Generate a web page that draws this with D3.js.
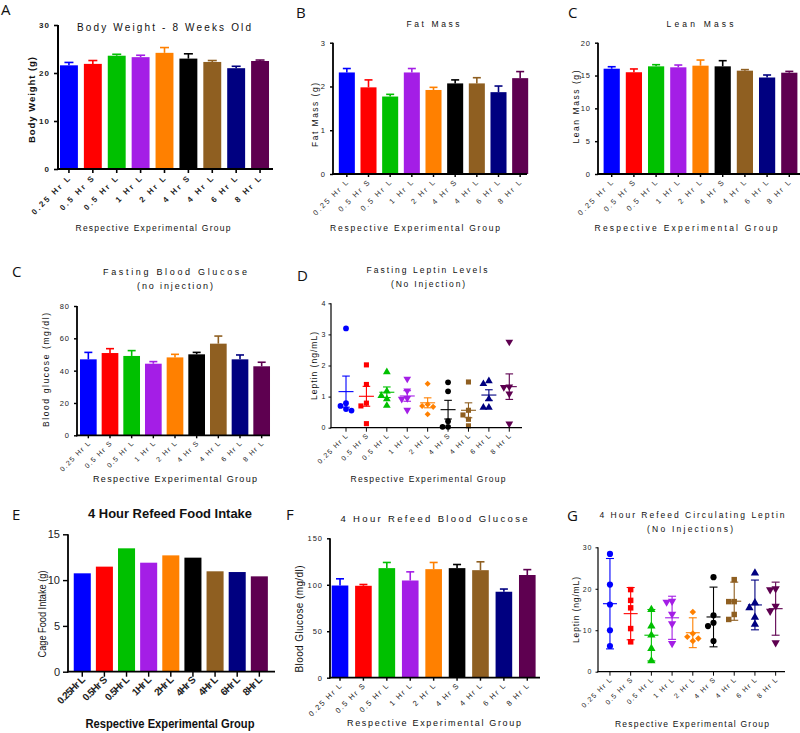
<!DOCTYPE html>
<html><head><meta charset="utf-8">
<script src="https://cdn.jsdelivr.net/npm/d3@7"></script>
<style>
body{margin:0;background:#fff}
svg{display:block}
text{font-family:"Liberation Sans",Arial,sans-serif;fill:#111}
</style>
</head><body>
<svg id="c" width="800" height="733"></svg>
<script>
// ---------------- DATA ----------------
const groups = ["0.25 Hr L","0.5 Hr S","0.5 Hr L","1 Hr L","2 Hr L","4 Hr S","4 Hr L","6 Hr L","8 Hr L"];
const groupsE = ["0.25Hr L","0.5Hr S","0.5Hr L","1Hr L","2Hr L","4Hr S","4Hr L","6Hr L","8Hr L"];
const colors = ["#0000ff","#ff0000","#00c000","#a41ee6","#ff8000","#000000","#8f5f21","#000080","#5e0050"];
const symbols = ["circle","square","triangle","down","diamond","circle","square","triangle","down"];

const bodyWeight    = [21.6, 21.9, 23.6, 23.3, 24.2, 23.0, 22.3, 21.0, 22.5];
const bodyWeightErr = [0.6, 0.7, 0.3, 0.4, 1.1, 1.0, 0.3, 0.4, 0.2];
const bodyWeightTicks = [0, 10, 20, 30];

const fatMass    = [2.32, 1.98, 1.77, 2.32, 1.92, 2.07, 2.07, 1.87, 2.19];
const fatMassErr = [0.09, 0.17, 0.05, 0.09, 0.06, 0.08, 0.13, 0.14, 0.15];
const fatMassTicks = [0, 1, 2, 3];

const leanMass    = [16.04, 15.5, 16.4, 16.25, 16.5, 16.4, 15.74, 14.7, 15.43];
const leanMassErr = [0.3, 0.5, 0.25, 0.35, 0.86, 0.86, 0.16, 0.38, 0.2];
const leanMassTicks = [0, 5, 10, 15, 20];

const fastingGlucose    = [47.0, 50.9, 49.1, 44.3, 48.2, 50.1, 56.7, 47.0, 42.7];
const fastingGlucoseErr = [4.3, 2.7, 3.3, 1.3, 1.9, 1.2, 4.7, 2.7, 2.5];
const fastingGlucoseTicks = [0, 20, 40, 60, 80];

const fastingLeptin = [
  [3.19, 0.79, 0.70, 0.60, 0.55],
  [2.02, 1.39, 0.79, 0.70, 0.13],
  [1.79, 1.17, 1.03, 0.92, 0.71],
  [1.57, 1.19, 0.95, 0.92, 0.57],
  [1.41, 0.75, 0.70, 0.67, 0.43],
  [1.46, 1.17, 0.21, 0.03, 0.03],
  [1.47, 0.56, 0.41, 0.27, 0.06],
  [1.50, 1.41, 0.92, 0.65, 0.65],
  [2.76, 1.32, 1.30, 1.09, 0.13]
];
const fastingLeptinMean = [1.16, 1.01, 1.14, 1.02, 0.80, 0.58, 0.56, 1.05, 1.32];
const fastingLeptinErr  = [0.50, 0.32, 0.17, 0.17, 0.16, 0.30, 0.24, 0.17, 0.41];
const fastingLeptinTicks = [0, 1, 2, 3, 4];

const foodIntake = [10.74, 11.47, 13.47, 11.9, 12.7, 12.45, 10.96, 10.88, 10.41];
const foodIntakeTicks = [0, 5, 10, 15];

const refeedGlucose    = [99.2, 98.9, 117.9, 104.6, 116.8, 117.9, 115.7, 92.5, 110.5];
const refeedGlucoseErr = [7.2, 1.4, 6.1, 9.3, 7.2, 3.9, 9.0, 2.9, 5.8];
const refeedGlucoseTicks = [0, 50, 100, 150];

const refeedLeptin = [
  [28.4, 21.0, 16.2, 10.0, 6.2],
  [19.8, 17.2, 15.4, 10.4, 7.2],
  [15.0, 11.0, 8.8, 5.6, 2.6],
  [17.0, 16.8, 13.9, 11.6, 6.8],
  [14.4, 9.2, 8.4, 8.0, 7.4],
  [22.8, 13.6, 11.8, 11.0, 7.4],
  [22.2, 16.9, 16.9, 13.8, 12.6],
  [23.8, 16.6, 15.4, 13.1, 11.4],
  [20.0, 19.8, 15.8, 14.6, 7.0]
];
const refeedLeptinMean = [16.4, 14.0, 8.8, 13.0, 9.4, 13.2, 17.0, 16.1, 15.2];
const refeedLeptinErr  = [10.9, 6.3, 6.2, 5.2, 3.6, 7.2, 4.6, 6.0, 6.4];
const refeedLeptinTicks = [0, 10, 20, 30];

// ---------------- DRAWING ----------------
const svg = d3.select("#c");

function txt(g, s, x, y, o) {
  o = o || {};
  const t = g.append("text").text(s)
    .attr("x", x).attr("y", y)
    .attr("text-anchor", o.anchor || "middle")
    .style("font-size", (o.size || 9) + "px")
    .style("font-weight", o.bold ? "bold" : "normal");
  if (o.ls != null) t.style("letter-spacing", o.ls + "px");
  if (o.len) t.attr("textLength", o.len).attr("lengthAdjust", o.adj || "spacing");
  if (o.rot) t.attr("x", 0).attr("y", 0).attr("transform", `translate(${x},${y}) rotate(${o.rot})`);
  if (o.fill) t.style("fill", o.fill);
  if (o.family) t.style("font-family", o.family);
  return t;
}

function symbolPath(name, size) {
  if (name === "circle") return d3.symbol(d3.symbolCircle, size)();
  if (name === "square") return d3.symbol(d3.symbolSquare, size)();
  if (name === "diamond") return d3.symbol(d3.symbolSquare, size * 0.7)();
  return d3.symbol(d3.symbolTriangle, size)();
}
function symbolRot(name) {
  if (name === "down") return 180;
  if (name === "diamond") return 45;
  return 0;
}

function swarm(vals, y, minDist, dx) {
  const placed = [];
  return vals.map(v => {
    const py = y(v);
    const cands = [0, -dx, dx, -2 * dx, 2 * dx, -3 * dx, 3 * dx];
    for (const c of cands) {
      if (placed.every(p => Math.hypot(p.x - c, p.y - py) >= minDist)) {
        placed.push({x: c, y: py});
        return {v, dx: c};
      }
    }
    return {v, dx: 0};
  });
}

function panel(cfg) {
  const g = svg.append("g");
  const x = d3.scaleBand().domain(cfg.cats).range(cfg.band)
    .paddingInner(cfg.pad).paddingOuter(cfg.pad / 2);
  const y = d3.scaleLinear().domain([0, cfg.max]).range([cfg.yBot, cfg.yTop]);
  const aw = cfg.axisW;

  // bars
  if (cfg.values) {
    g.selectAll("rect.bar").data(cfg.values).join("rect")
      .attr("x", (d, i) => x(cfg.cats[i]))
      .attr("width", x.bandwidth())
      .attr("y", d => y(d))
      .attr("height", d => y(0) - y(d))
      .attr("fill", (d, i) => colors[i]);
    if (cfg.errs) {
      const eg = g.append("g");
      cfg.values.forEach((v, i) => {
        const cx = x(cfg.cats[i]) + x.bandwidth() / 2;
        const top = y(v + cfg.errs[i]);
        eg.append("line").attr("x1", cx).attr("x2", cx).attr("y1", y(v)).attr("y2", top)
          .attr("stroke", colors[i]).attr("stroke-width", 1.6);
        eg.append("line").attr("x1", cx - cfg.cap).attr("x2", cx + cfg.cap).attr("y1", top).attr("y2", top)
          .attr("stroke", colors[i]).attr("stroke-width", 1.6);
      });
    }
  }

  // scatter
  if (cfg.points) {
    cfg.points.forEach((vals, i) => {
      const cx = x(cfg.cats[i]) + x.bandwidth() / 2;
      const pts = swarm(vals, y, 5.5, 5.5);
      g.append("g").selectAll("path").data(pts).join("path")
        .attr("d", symbolPath(symbols[i], cfg.symSize))
        .attr("transform", d => `translate(${cx + d.dx},${y(d.v)}) rotate(${symbolRot(symbols[i])})`)
        .attr("fill", colors[i]);
      const m = cfg.means[i], e = cfg.errs[i];
      const lg = g.append("g").attr("stroke", colors[i]).attr("stroke-width", 1.1);
      lg.append("line").attr("x1", cx - cfg.meanW).attr("x2", cx + cfg.meanW).attr("y1", y(m)).attr("y2", y(m));
      lg.append("line").attr("x1", cx).attr("x2", cx).attr("y1", y(Math.max(0, m - e))).attr("y2", y(m + e));
      lg.append("line").attr("x1", cx - cfg.cap).attr("x2", cx + cfg.cap).attr("y1", y(m + e)).attr("y2", y(m + e));
      if (m - e > 0)
        lg.append("line").attr("x1", cx - cfg.cap).attr("x2", cx + cfg.cap).attr("y1", y(m - e)).attr("y2", y(m - e));
    });
  }

  // y axis
  const ya = g.append("g").attr("transform", `translate(${cfg.x0},0)`)
    .call(d3.axisLeft(y).tickValues(cfg.ticks).tickSize(cfg.tickLen).tickSizeOuter(0).tickPadding(cfg.tickPad != null ? cfg.tickPad : 4)
      .tickFormat(d3.format("d")));
  ya.select(".domain").attr("stroke", "#000").attr("stroke-width", aw)
    .attr("d", `M0,${cfg.yBot + aw / 2}V${cfg.yTop}`);
  ya.selectAll(".tick line").attr("stroke", "#000").attr("stroke-width", aw * 0.8);
  ya.selectAll(".tick text").style("font-family", "'Liberation Sans',Arial,sans-serif")
    .style("font-size", cfg.yTickSize + "px").style("fill", "#222")
    .style("font-weight", cfg.yTickBold ? "bold" : "normal")
    .style("letter-spacing", (cfg.yTickLs != null ? cfg.yTickLs : 1) + "px");

  // x axis
  const xa = g.append("g").attr("transform", `translate(0,${cfg.yBot})`)
    .call(d3.axisBottom(x).tickSize(cfg.xTickLen || cfg.tickLen).tickSizeOuter(0).tickFormat(""));
  xa.select(".domain").remove();
  xa.selectAll(".tick line").attr("stroke", "#000").attr("stroke-width", aw * 0.8);
  g.append("line").attr("x1", cfg.x0 - aw / 2).attr("x2", cfg.x1).attr("y1", cfg.yBot).attr("y2", cfg.yBot)
    .attr("stroke", "#000").attr("stroke-width", aw);

  // x tick labels
  const labels = cfg.labels || cfg.cats;
  labels.forEach((s, i) => {
    const cx = x(cfg.cats[i]) + x.bandwidth() / 2;
    txt(g, s, cx + cfg.lblDx, cfg.yBot + cfg.lblDy,
      {anchor: "end", size: cfg.lblSize, ls: cfg.lblLs, rot: -45, bold: cfg.lblBold, fill: cfg.lblFill || "#222"});
  });

  // panel letter
  txt(g, cfg.letter, cfg.letterX, cfg.letterY, {anchor: "start", size: 15, family: "'Open Sans',sans-serif"});
  // titles
  cfg.titles.forEach(t => txt(g, t.s, t.x, t.y, t.o));
}

// A: Body weight
panel({
  letter: "A", letterX: 1, letterY: 15,
  cats: groups, band: [57, 272], pad: 0.25, x0: 58, x1: 273, yTop: 25, yBot: 169, max: 30,
  ticks: bodyWeightTicks, values: bodyWeight, errs: bodyWeightErr, cap: 4.5,
  axisW: 2, tickLen: 4, yTickSize: 8, yTickBold: true,
  lblDx: 3, lblDy: 9, lblSize: 8, lblLs: 2.1, lblBold: true,
  titles: [
    {s: "Body Weight - 8 Weeks Old", x: 164, y: 31, o: {size: 10, len: 174}},
    {s: "Body Weight (g)", x: 35, y: 100, o: {size: 9.5, bold: true, rot: -90, len: 86}},
    {s: "Respective Experimental Group", x: 153, y: 231, o: {size: 8.5, len: 155}}
  ]
});

// B: Fat mass
panel({
  letter: "B", letterX: 296, letterY: 18,
  cats: groups, band: [336, 531], pad: 0.26, x0: 333, x1: 527, yTop: 42.7, yBot: 174, max: 3,
  ticks: fatMassTicks, values: fatMass, errs: fatMassErr, cap: 4,
  axisW: 1.8, tickLen: 3, yTickSize: 7.5,
  lblDx: 3, lblDy: 8, lblSize: 7.5, lblLs: 1.9, lblFill: "#333",
  titles: [
    {s: "Fat Mass", x: 433, y: 27, o: {size: 8.5, len: 53}},
    {s: "Fat Mass (g)", x: 318, y: 115, o: {size: 8.5, rot: -90, len: 64}},
    {s: "Respective Experimental Group", x: 415, y: 231, o: {size: 8.5, len: 170}}
  ]
});

// C: Lean mass
panel({
  letter: "C", letterX: 568, letterY: 18,
  cats: groups, band: [600.6, 800.4], pad: 0.27, x0: 598, x1: 800, yTop: 42.7, yBot: 174, max: 20,
  ticks: leanMassTicks, values: leanMass, errs: leanMassErr, cap: 4,
  axisW: 1.8, tickLen: 3, yTickSize: 7.5,
  lblDx: 3, lblDy: 8, lblSize: 7.5, lblLs: 1.9, lblFill: "#333",
  titles: [
    {s: "Lean  Mass", x: 700, y: 27, o: {size: 8.5, len: 67}},
    {s: "Lean Mass (g)", x: 579, y: 107, o: {size: 8.5, rot: -90, len: 73}},
    {s: "Respective Experimental Group", x: 686, y: 231, o: {size: 8.5, len: 183}}
  ]
});

// C (row 2): Fasting blood glucose
panel({
  letter: "C", letterX: 12, letterY: 277,
  cats: groups, band: [77.5, 272.5], pad: 0.23, x0: 77, x1: 270, yTop: 306, yBot: 435.3, max: 80,
  ticks: fastingGlucoseTicks, values: fastingGlucose, errs: fastingGlucoseErr, cap: 4,
  axisW: 1.8, tickLen: 3, yTickSize: 7.5,
  lblDx: 3, lblDy: 8, lblSize: 7, lblLs: 1.3,
  titles: [
    {s: "Fasting  Blood  Glucose", x: 175, y: 275, o: {size: 9, len: 144}},
    {s: "(no injection)", x: 175, y: 289, o: {size: 9, len: 76}},
    {s: "Blood glucose (mg/dl)", x: 49, y: 370, o: {size: 8.5, rot: -90, len: 114}},
    {s: "Respective  Experimental Group", x: 175, y: 482, o: {size: 9, len: 164}}
  ]
});

// D: Fasting leptin
panel({
  letter: "D", letterX: 297, letterY: 281,
  cats: groups, band: [335.8, 519.5], pad: 0.3, x0: 331, x1: 522, yTop: 303.3, yBot: 427.7, max: 4,
  ticks: fastingLeptinTicks, points: fastingLeptin, means: fastingLeptinMean, errs: fastingLeptinErr,
  symSize: 26, meanW: 7.5, cap: 3.8,
  axisW: 1.2, tickLen: 2.5, xTickLen: 4, tickPad: 2, yTickSize: 7,
  lblDx: 3, lblDy: 8, lblSize: 7, lblLs: 1.3,
  titles: [
    {s: "Fasting Leptin Levels", x: 427, y: 273, o: {size: 8.5, len: 121}},
    {s: "(No Injection)", x: 428, y: 287, o: {size: 8.5, len: 74}},
    {s: "Leptin (ng/mL)", x: 317, y: 366, o: {size: 8.5, rot: -90, len: 68}},
    {s: "Respective  Experimental Group", x: 428, y: 482, o: {size: 8.5, len: 155}}
  ]
});

// E: Food intake
panel({
  letter: "E", letterX: 12, letterY: 520,
  cats: groups, labels: groupsE, band: [71.2, 270.4], pad: 0.23, x0: 68, x1: 275, yTop: 534.3, yBot: 671.7, max: 15,
  ticks: foodIntakeTicks, values: foodIntake,
  axisW: 1.8, tickLen: 5, yTickSize: 11, yTickLs: 0, tickPad: 3,
  lblDx: 3, lblDy: 9, lblSize: 10, lblLs: -0.7, lblBold: true,
  titles: [
    {s: "4 Hour Refeed Food Intake", x: 170, y: 518, o: {size: 13, bold: true, len: 164, adj: "spacingAndGlyphs"}},
    {s: "Cage Food Intake (g)", x: 46, y: 614, o: {size: 11.5, rot: -90, len: 87, adj: "spacingAndGlyphs"}},
    {s: "Respective  Experimental Group", x: 170, y: 728, o: {size: 12.5, bold: true, len: 169, adj: "spacingAndGlyphs"}}
  ]
});

// F: Refeed blood glucose
panel({
  letter: "F", letterX: 286, letterY: 520,
  cats: groups, band: [328.3, 539], pad: 0.29, x0: 330, x1: 540, yTop: 538.3, yBot: 677.7, max: 150,
  ticks: refeedGlucoseTicks, values: refeedGlucose, errs: refeedGlucoseErr, cap: 4,
  axisW: 1.8, tickLen: 3, yTickSize: 7.5,
  lblDx: 3, lblDy: 8, lblSize: 7.5, lblLs: 1.5,
  titles: [
    {s: "4 Hour Refeed Blood Glucose", x: 434, y: 522, o: {size: 9.5, len: 187}},
    {s: "Blood  Glucose (mg/dl)", x: 303, y: 619, o: {size: 10, rot: -90, len: 107}},
    {s: "Respective  Experimental Group", x: 434, y: 726, o: {size: 9, len: 174}}
  ]
});

// G: Refeed circulating leptin
panel({
  letter: "G", letterX: 567, letterY: 521,
  cats: groups, band: [599.6, 786], pad: 0.3, x0: 598, x1: 785, yTop: 547.3, yBot: 671.7, max: 30,
  ticks: refeedLeptinTicks, points: refeedLeptin, means: refeedLeptinMean, errs: refeedLeptinErr,
  symSize: 30, meanW: 7, cap: 4,
  axisW: 1.2, tickLen: 2.5, xTickLen: 4, tickPad: 3, yTickSize: 7,
  lblDx: 3, lblDy: 8, lblSize: 7, lblLs: 1.3,
  titles: [
    {s: "4 Hour Refeed Circulating Leptin", x: 692, y: 518, o: {size: 8.5, len: 185}},
    {s: "(No Injections)", x: 690, y: 532, o: {size: 8.5, len: 86}},
    {s: "Leptin (ng/mL)", x: 579, y: 610, o: {size: 8.5, rot: -90, len: 66}},
    {s: "Respective  Experimental Group", x: 692, y: 727, o: {size: 8.5, len: 154}}
  ]
});
</script>
</body></html>
